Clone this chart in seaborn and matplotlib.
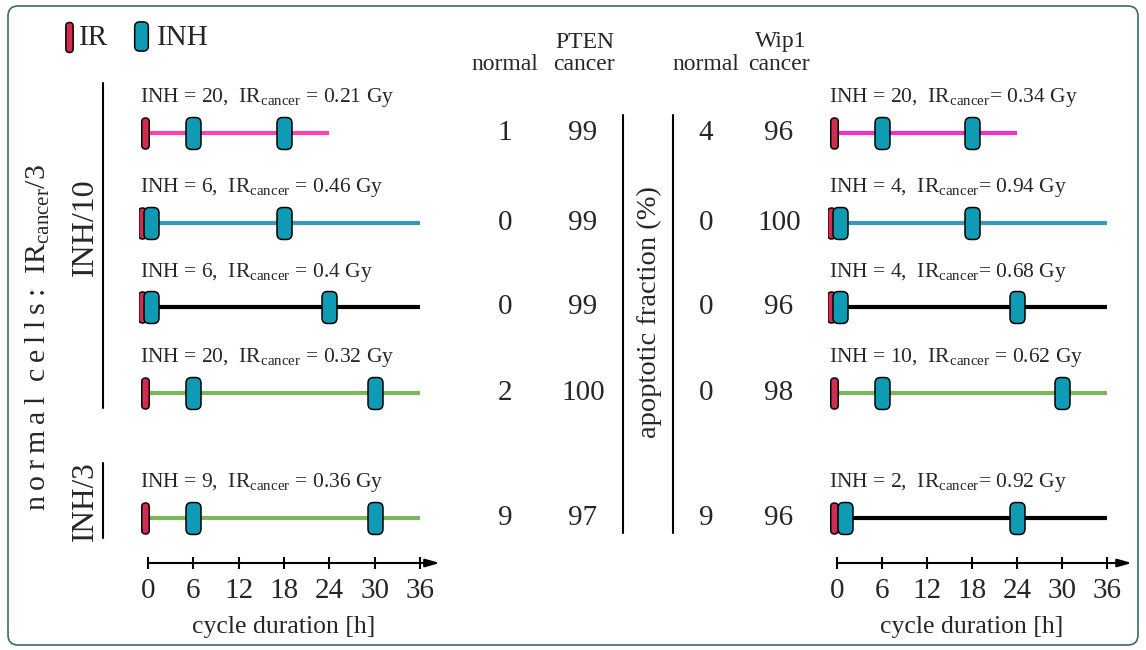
import matplotlib
matplotlib.use("Agg")
import matplotlib.pyplot as plt
from matplotlib.markers import MarkerStyle
from matplotlib.patches import BoxStyle, FancyBboxPatch
import pandas as pd
import seaborn as sns

# ── data ─────────────────────────────────────────────────────────────────────
HOURS = [0, 6, 12, 18, 24, 30, 36]

PTEN_LINE_END = [24, 36, 36, 36, 36]
PTEN_LINE_COLOR = ["#fb45ab", "#3798b9", "#000000", "#7db65b", "#7db65b"]
PTEN_IR_T = [0, 0, 0, 0, 0]
PTEN_INH_T = [[6, 18], [0, 18], [0, 24], [6, 30], [6, 30]]
PTEN_LABEL = [
    r"INH = 20,  IR$_{\mathrm{cancer}}$ = 0.21 Gy",
    r"INH = 6,  IR$_{\mathrm{cancer}}$ = 0.46 Gy",
    r"INH = 6,  IR$_{\mathrm{cancer}}$ = 0.4 Gy",
    r"INH = 20,  IR$_{\mathrm{cancer}}$ = 0.32 Gy",
    r"INH = 9,  IR$_{\mathrm{cancer}}$ = 0.36 Gy",
]
PTEN_NORMAL = [1, 0, 0, 2, 9]
PTEN_CANCER = [99, 99, 99, 100, 97]

WIP1_LINE_END = [24, 36, 36, 36, 36]
WIP1_LINE_COLOR = ["#f52ec8", "#3798b9", "#000000", "#7db65b", "#000000"]
WIP1_IR_T = [0, 0, 0, 0, 0]
WIP1_INH_T = [[6, 18], [0, 18], [0, 24], [6, 30], [1, 24]]
WIP1_LABEL = [
    r"INH = 20,  IR$_{\mathrm{cancer}}$= 0.34 Gy",
    r"INH = 4,  IR$_{\mathrm{cancer}}$= 0.94 Gy",
    r"INH = 4,  IR$_{\mathrm{cancer}}$= 0.68 Gy",
    r"INH = 10,  IR$_{\mathrm{cancer}}$ = 0.62 Gy",
    r"INH = 2,  IR$_{\mathrm{cancer}}$= 0.92 Gy",
]
WIP1_NORMAL = [4, 0, 0, 0, 9]
WIP1_CANCER = [96, 100, 96, 98, 96]

# ── style ────────────────────────────────────────────────────────────────────
sns.set_theme(style="white")
plt.rcParams["font.family"] = ["Liberation Serif", "DejaVu Serif"]
plt.rcParams["mathtext.fontset"] = "custom"
plt.rcParams["mathtext.rm"] = "Liberation Serif"
plt.rcParams["mathtext.it"] = "Liberation Serif:italic"

IR_COLOR = "#d02d50"
INH_COLOR = "#0f9bb4"
FRAME_COLOR = "#3b6b6b"

W, H = 1146, 650
ROW_Y = [5.0, 3.95, 2.97, 1.98, 0.52]
Y_LIM = (0, 5.6)
AX_TOP, AX_BOT = 81, 563
THIN = "\u2009"


def rounded_marker(w, h, r):
    path = BoxStyle("round", pad=0, rounding_size=r)(-w / 2, -h / 2, w, h, 1.0)
    return MarkerStyle(path)


IR_MARK = rounded_marker(7.5, 31, 3.7)
INH_MARK = rounded_marker(15, 32, 5.5)


def px_axes(fig, x0, x1, **kw):
    return fig.add_axes([x0 / W, 1 - AX_BOT / H, (x1 - x0) / W, (AX_BOT - AX_TOP) / H], **kw)


def spaced(word):
    return THIN.join(word)


def draw_panel(ax, ends, colors, ir_t, inh_t, labels, xlim):
    rows = []
    for i, end in enumerate(ends):
        rows.append(dict(t=0, y=ROW_Y[i], row=f"r{i}"))
        rows.append(dict(t=end, y=ROW_Y[i], row=f"r{i}"))
    df = pd.DataFrame(rows)
    sns.lineplot(data=df, x="t", y="y", hue="row", palette=colors, legend=False,
                 estimator=None, sort=False, lw=3, ax=ax, solid_capstyle="butt", zorder=2)

    for i in range(len(ends)):
        ir = ir_t[i]
        overlap = ir in inh_t[i]
        ir_x = ir - 0.85 if overlap else ir - 0.4
        ax.plot([ir_x], [ROW_Y[i]], ls="none", marker=IR_MARK, ms=22.3,
                mfc=IR_COLOR, mec="black", mew=1.1, zorder=3)
        inh_x = [t + 0.45 if (overlap and t == ir) else t for t in inh_t[i]]
        ax.plot(inh_x, [ROW_Y[i]] * len(inh_x), ls="none", marker=INH_MARK, ms=23,
                mfc=INH_COLOR, mec="black", mew=1.1, zorder=4)
        ax.text(-1.1, ROW_Y[i] + 0.41, labels[i], fontsize=15.5, ha="left", va="center")

    ax.set_xlim(*xlim)
    ax.set_ylim(*Y_LIM)
    ax.set_xticks(HOURS)
    ax.set_xticklabels([str(h) for h in HOURS])
    ax.set_yticks([])
    ax.set_ylabel("")
    for s in ax.spines.values():
        s.set_visible(False)
    ax.tick_params(axis="x", direction="inout", length=8, width=1.5, color="black",
                   labelsize=21, pad=7, bottom=True)
    ax.annotate("", xy=(xlim[1], Y_LIM[0]), xytext=(0, Y_LIM[0]),
                arrowprops=dict(arrowstyle="-|>,head_length=0.7,head_width=0.2",
                                lw=1.5, color="black", shrinkA=0, shrinkB=0))
    ax.set_xlabel("cycle duration [h]", fontsize=18.5)
    ax.xaxis.set_label_coords((18 - xlim[0]) / (xlim[1] - xlim[0]), -0.11)
    ax.set_facecolor("none")


fig = plt.figure(figsize=(W / 100, H / 100), dpi=100)

# background / decoration layer in pixel coordinates
ax_bg = fig.add_axes([0, 0, 1, 1])
ax_bg.set_xlim(0, W)
ax_bg.set_ylim(H, 0)
ax_bg.axis("off")
ax_bg.add_patch(FancyBboxPatch((8, 6), 1130, 639, boxstyle="round,pad=0,rounding_size=10",
                               fc="none", ec=FRAME_COLOR, lw=1.2))

# legend
ax_bg.plot([69], [37], ls="none", marker=IR_MARK, ms=21.6, mfc=IR_COLOR, mec="black", mew=1.1)
ax_bg.text(79, 38, "IR", fontsize=21, ha="left", va="center")
ax_bg.plot([141], [36], ls="none", marker=INH_MARK, ms=21, mfc=INH_COLOR, mec="black", mew=1.1)
ax_bg.text(157, 38, "INH", fontsize=21, ha="left", va="center")

# group brackets and labels on the left
ax_bg.plot([103, 103], [83, 408], color="black", lw=1.5)
ax_bg.plot([103, 103], [463, 538], color="black", lw=1.5)
left_label = spaced("normal") + "  " + spaced("cells:") + r"  IR$_{\mathrm{cancer}}$/3"
ax_bg.text(38, 338, left_label, fontsize=21.5, rotation=90, ha="center", va="center")
ax_bg.text(85, 227, "INH/10", fontsize=23, rotation=90, ha="center", va="center")
ax_bg.text(85, 501, "INH/3", fontsize=22.5, rotation=90, ha="center", va="center")

# column headers
for x, y, s in [(505, 64, "normal"), (585, 42, "PTEN"), (584, 64, "cancer"),
                (706, 64, "normal"), (781, 42, "Wip1"), (779, 64, "cancer")]:
    ax_bg.text(x, y, s, fontsize=17, ha="center", va="center")

# timeline panels
ax_l = px_axes(fig, 148 - 1.2 * 7.556, 148 + 38.6 * 7.556)
draw_panel(ax_l, PTEN_LINE_END, PTEN_LINE_COLOR, PTEN_IR_T, PTEN_INH_T, PTEN_LABEL, (-1.2, 38.6))

ax_r = px_axes(fig, 837 - 1.2 * 7.5, 837 + 39.3 * 7.5)
draw_panel(ax_r, WIP1_LINE_END, WIP1_LINE_COLOR, WIP1_IR_T, WIP1_INH_T, WIP1_LABEL, (-1.2, 39.3))

# apoptotic fraction numbers
ax_m = px_axes(fig, 460, 830)
ax_m.set_xlim(460, 830)
ax_m.set_ylim(*Y_LIM)
ax_m.axis("off")
for col_x, vals in [(505, PTEN_NORMAL), (583, PTEN_CANCER), (706, WIP1_NORMAL), (779, WIP1_CANCER)]:
    for y, v in zip(ROW_Y, vals):
        ax_m.text(col_x, y, str(v), fontsize=21, ha="center", va="center")
ax_m.plot([623, 623], [0.35, 5.21], color="black", lw=1.5)
ax_m.plot([673, 673], [0.35, 5.21], color="black", lw=1.5)
ax_m.text(649, 2.92, "apoptotic fraction (%)", fontsize=20.5, rotation=90, ha="center", va="center")

fig.savefig("out.png", dpi=100, facecolor="white")
